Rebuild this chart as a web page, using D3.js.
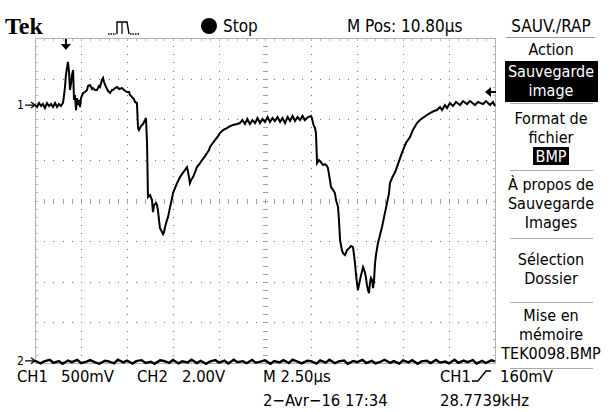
<!DOCTYPE html>
<html><head><meta charset="utf-8">
<script src="https://cdn.jsdelivr.net/npm/d3@7"></script>
<style>
body{margin:0;background:#fff}
svg{display:block}
text{font-family:"DejaVu Sans Condensed","DejaVu Sans",sans-serif;font-stretch:condensed;font-size:17px;fill:#000}
</style>
</head><body><svg id="c" width="611" height="412"></svg>
<script>
// ---- Data (time in µs from left edge of screen, volts) ----
const ch1Time = [0,0.11,0.22,0.33,0.43,0.54,0.65,0.76,0.87,0.98,1.09,1.20,1.30,1.41,1.52,
1.58,1.63,1.68,1.79,1.85,1.90,1.96,2.01,2.07,2.12,2.17,2.23,2.28,2.34,2.39,2.45,2.50,2.61,2.72,2.83,2.88,2.99,3.10,3.15,3.26,3.37,3.48,3.53,3.64,3.70,3.75,3.86,3.97,4.08,4.18,4.24,4.35,4.46,4.57,4.73,4.84,5.00,5.11,5.16,5.27,5.38,5.43,5.54,
5.60,5.65,5.76,5.87,5.98,6.03,6.09,6.14,6.25,6.36,6.41,6.47,6.58,6.63,6.68,6.79,6.85,6.96,7.01,7.07,7.17,7.23,7.34,7.45,7.50,7.61,7.72,7.83,7.88,7.99,8.15,8.26,8.32,8.42,8.48,8.59,8.70,8.80,8.97,9.08,9.24,9.35,9.46,9.51,9.62,9.78,9.95,10.05,10.22,10.43,10.60,10.76,10.98,11.14,
11.27,11.41,11.54,11.68,11.82,11.96,12.09,12.23,12.36,12.50,12.64,12.77,12.91,13.04,13.18,13.32,13.45,13.59,13.73,13.86,14.00,14.13,14.27,14.40,14.54,14.67,14.84,15.00,15.05,
15.11,15.16,15.22,15.27,15.33,15.43,15.54,15.65,15.76,15.87,15.92,16.03,16.09,16.20,16.30,16.36,16.47,16.52,16.58,16.68,16.74,16.85,16.96,17.07,17.17,17.28,17.34,17.39,17.45,17.50,17.55,17.66,17.72,17.83,17.93,17.99,18.04,18.10,18.15,18.21,18.26,18.32,18.37,18.42,18.48,18.53,18.64,18.75,18.86,18.97,19.13,19.24,19.29,19.40,19.57,19.67,19.84,20.00,20.16,20.38,20.54,20.76,20.92,21.14,21.30,21.47,21.68,21.85,
22.01,22.12,22.28,22.39,22.55,22.72,22.88,23.10,23.26,23.48,23.64,23.91,24.07,24.35,24.51,24.73,24.89,25.00];
const ch1Volts = [0,-0.025,0.025,-0.012,0.012,-0.037,0.025,-0.012,0.012,-0.025,0.025,-0.025,0.012,-0.012,0.025,
0.123,0.222,0.369,0.530,0.406,0.185,0.271,0.369,0.431,0.062,0.123,-0.062,0.086,0,0.062,-0.025,0.086,0.148,0.160,0.185,0.234,0.246,0.197,0.209,0.185,0.185,0.234,0.222,0.308,0.333,0.283,0.222,0.172,0.148,0.185,0.185,0.209,0.222,0.197,0.209,0.185,0.160,0.160,0.123,0.099,0.074,0.037,0.025,
-0.283,-0.308,-0.259,-0.234,-0.185,-0.160,-0.468,-1.133,-1.108,-1.170,-1.318,-1.232,-1.207,-1.232,-1.293,-1.515,-1.539,-1.589,-1.564,-1.502,-1.416,-1.379,-1.256,-1.145,-1.084,-1.022,-0.961,-0.911,-0.887,-0.850,-0.800,-0.764,-0.825,-0.961,-0.924,-0.887,-0.825,-0.764,-0.714,-0.677,-0.628,-0.591,-0.554,-0.517,-0.480,-0.431,-0.382,-0.345,-0.308,-0.283,-0.259,-0.246,-0.234,-0.222,
-0.185,-0.234,-0.172,-0.234,-0.185,-0.222,-0.160,-0.222,-0.172,-0.209,-0.148,-0.209,-0.160,-0.197,-0.148,-0.209,-0.160,-0.222,-0.148,-0.197,-0.135,-0.197,-0.148,-0.185,-0.135,-0.185,-0.148,-0.135,-0.160,
-0.222,-0.259,-0.283,-0.345,-0.714,-0.677,-0.702,-0.739,-0.727,-0.751,-0.776,-0.924,-1.010,-1.047,-1.084,-1.170,-1.256,-1.416,-1.663,-1.786,-1.823,-1.847,-1.786,-1.761,-1.736,-1.749,-1.847,-1.946,-2.094,-2.192,-2.278,-2.155,-2.094,-1.995,-2.057,-2.130,-2.217,-2.278,-2.315,-2.180,-2.130,-2.155,-2.254,-2.180,-1.946,-1.847,-1.699,-1.601,-1.502,-1.379,-1.207,-1.084,-0.961,-0.899,-0.825,-0.764,-0.653,-0.554,-0.468,-0.394,-0.308,-0.222,-0.185,-0.148,-0.123,-0.099,-0.074,-0.062,
-0.025,-0.062,0,-0.037,0.025,-0.012,0.037,0,0.049,0.012,0.049,0,0.037,0.012,0.049,0,0.037,-0.012];

const ch2Time = [0,0.3,0.5,0.8,1,1.3,1.5,1.8,2,2.3,2.5,2.8,3,3.3,3.5,3.8,4,4.3,4.5,4.8,5,5.3,5.5,5.8,6,6.3,6.5,6.8,7,7.3,7.5,7.8,8,8.3,8.5,8.8,9,9.3,9.5,9.8,10,10.3,10.5,10.8,11,11.3,11.5,11.8,12,12.3,12.5,12.8,13,13.3,13.5,13.8,14,14.3,14.5,14.8,15,15.3,15.5,15.8,16,16.3,16.5,16.8,17,17.3,17.5,17.8,18,18.3,18.5,18.8,19,19.3,19.5,19.8,20,20.3,20.5,20.8,21,21.3,21.5,21.8,22,22.3,22.5,22.8,23,23.3,23.5,23.8,24,24.3,24.5,24.8,25];
const ch2Volts = [0.05,-0.08,0.02,0.1,-0.05,0.03,-0.1,0.06,-0.02,0.09,-0.07,0.01,0.08,-0.04,-0.1,0.05,0.02,-0.08,0.1,-0.03,0.06,-0.09,0.03,0.08,-0.06,0.0,-0.1,0.07,0.04,-0.05,0.09,-0.08,0.02,-0.03,0.1,-0.06,0.05,-0.1,0.01,0.08,-0.04,0.06,-0.09,0.1,-0.02,0.03,-0.07,0.09,-0.05,0.02,0.07,-0.1,0.04,-0.03,0.08,-0.06,0.1,-0.01,-0.08,0.05,0.03,-0.09,0.07,-0.04,0.1,-0.07,0.02,0.06,-0.1,0.04,-0.02,0.09,-0.06,0.05,-0.08,0.01,0.1,-0.05,0.03,-0.09,0.07,-0.03,0.08,-0.1,0.02,0.05,-0.06,0.09,-0.04,0.01,-0.08,0.1,-0.05,0.06,-0.02,0.08,-0.09,0.04,-0.06,0.07,0.02];

const timeDomain = [0, 25];          // 10 div x 2.5 µs
const divDomain = [-4, 4];           // 8 vertical divisions
const ch1VoltsPerDiv = 0.5, ch2VoltsPerDiv = 2.0;
const ch1Position = 2.35, ch2Position = -3.97; // divisions
const triggerLevel = 0.16, triggerTime = 1.68;

const headerLabels = {tek:"Tek", stop:"Stop", mpos:"M Pos: 10.80µs"};
const menuTitle = "SAUV./RAP";
const menuItems = [
  {lines:["Action"], y:[55]},
  {lines:["Sauvegarde","image"], y:[77,96], inverse:true},
  {lines:["Format de","fichier"], y:[124,143], badge:"BMP"},
  {lines:["À propos de","Sauvegarde","Images"], y:[190,209,228]},
  {lines:["Sélection","Dossier"], y:[265,284]},
  {lines:["Mise en","mémoire","TEK0098.BMP"], y:[321,340,359]}
];
const separators = [103,170,238,302,368];
const footer = [
  {t:"CH1", x:17, y:382},{t:"500mV", x:61, y:382},
  {t:"CH2", x:137, y:382},{t:"2.00V", x:182, y:382},
  {t:"M 2.50µs", x:263, y:382},
  {t:"CH1", x:440, y:382},{t:"160mV", x:500, y:382},
  {t:"2−Avr−16 17:34", x:263, y:406},{t:"28.7739kHz", x:440, y:406}
];

// ---- Drawing ----
const svg = d3.select("#c");
const x = d3.scaleLinear().domain(timeDomain).range([35, 495]);
const y = d3.scaleLinear().domain(divDomain).range([363, 38]);
const xDiv = d3.scaleLinear().domain([0,10]).range([35,495]);
const gridCol = "#6e6e6e";

const g = svg.append("g");
g.append("rect").attr("x",xDiv(0)+0.5).attr("y",y(4)+0.5).attr("width",xDiv(10)-xDiv(0)).attr("height",y(-4)-y(4))
 .attr("fill","none").attr("stroke","#b4b4b4").attr("stroke-width",1);

const minorX = d3.range(0, 10.001, 0.2);
const minorY = d3.range(-4, 4.001, 0.2);
for (let i=1;i<10;i++){ if(i===5) continue;
  minorY.forEach(v=>g.append("rect").attr("x",Math.round(xDiv(i))).attr("y",Math.round(y(v))).attr("width",1).attr("height",1).attr("fill",gridCol));
}
for (let j=-3;j<=3;j++){ if(j===0) continue;
  minorX.forEach(v=>g.append("rect").attr("x",Math.round(xDiv(v))).attr("y",Math.round(y(j))).attr("width",1).attr("height",1).attr("fill",gridCol));
}
minorX.forEach(v=>g.append("rect").attr("x",Math.round(xDiv(v))).attr("y",Math.round(y(0))-2)
  .attr("width",1).attr("height",5).attr("fill","#a0a0a0"));
minorY.forEach(v=>g.append("rect").attr("y",Math.round(y(v))).attr("x",Math.round(xDiv(5))-2)
  .attr("height",1).attr("width",5).attr("fill","#a0a0a0"));
minorX.forEach(v=>{
  g.append("rect").attr("x",Math.round(xDiv(v))).attr("y",Math.round(y(4))).attr("width",1).attr("height",3).attr("fill","#b4b4b4");
  g.append("rect").attr("x",Math.round(xDiv(v))).attr("y",Math.round(y(-4))-2).attr("width",1).attr("height",3).attr("fill","#b4b4b4");
});
minorY.forEach(v=>{
  g.append("rect").attr("y",Math.round(y(v))).attr("x",Math.round(xDiv(0))).attr("height",1).attr("width",3).attr("fill","#b4b4b4");
  g.append("rect").attr("y",Math.round(y(v))).attr("x",Math.round(xDiv(10))-2).attr("height",1).attr("width",3).attr("fill","#b4b4b4");
});

// traces
const ch1 = ch1Time.map((t,i)=>({t, v:ch1Volts[i]}));
const ch2 = ch2Time.map((t,i)=>({t, v:ch2Volts[i]}));
const line1 = d3.line().x(d=>x(d.t)).y(d=>y(ch1Position + d.v/ch1VoltsPerDiv));
const line2 = d3.line().x(d=>x(d.t)).y(d=>y(ch2Position + d.v/ch2VoltsPerDiv));
svg.append("path").datum(ch2).attr("d",line2).attr("fill","none").attr("stroke","#000").attr("stroke-width",2.4);
svg.append("path").datum(ch1).attr("d",line1).attr("fill","none").attr("stroke","#000").attr("stroke-width",2).attr("stroke-linejoin","miter");

// channel markers
function chMarker(label, yy){
  svg.append("text").attr("x",17).attr("y",yy+4).style("font-size","12px").text(label);
  svg.append("path").attr("d",`M25,${yy}H34M31,${yy-3}L35,${yy}L31,${yy+3}`).attr("stroke","#000").attr("stroke-width",1.3).attr("fill","none");
}
chMarker("1", y(ch1Position));
chMarker("2", y(ch2Position)-1);

// trigger time arrow (top) and trigger level arrow (right)
const tx = x(triggerTime);
svg.append("path").attr("d",`M${tx},39V48`).attr("stroke","#000").attr("stroke-width",2);
svg.append("path").attr("d",`M${tx-5},44L${tx},50L${tx+5},44Z`).attr("fill","#000");
const ty = y(ch1Position + triggerLevel/ch1VoltsPerDiv);
svg.append("path").attr("d",`M487,${ty}H496`).attr("stroke","#000").attr("stroke-width",2);
svg.append("path").attr("d",`M491,${ty-5}L485,${ty}L491,${ty+5}Z`).attr("fill","#000");

// header
svg.append("text").attr("x",5).attr("y",34).style("font-family","'Liberation Serif','DejaVu Serif',serif")
  .style("font-weight","bold").style("font-size","24px").style("font-stretch","normal").text(headerLabels.tek);
svg.append("path").attr("d","M117,34V22H127L129,34").attr("fill","none").attr("stroke","#000").attr("stroke-width",1.4);
svg.append("path").attr("d","M122,22V34").attr("fill","none").attr("stroke","#000").attr("stroke-width",1.2);
svg.append("path").attr("d","M108,34H116M130,34H140").attr("stroke","#000").attr("stroke-width",1.4).attr("stroke-dasharray","1.5,1");
svg.append("circle").attr("cx",209).attr("cy",26).attr("r",8).attr("fill","#000");
svg.append("text").attr("x",223).attr("y",32).text(headerLabels.stop);
svg.append("text").attr("x",347).attr("y",32).text(headerLabels.mpos);

// menu
const mx = 551;
svg.append("text").attr("x",mx).attr("y",32).attr("text-anchor","middle").text(menuTitle);
svg.append("line").attr("x1",506).attr("x2",595).attr("y1",37.5).attr("y2",37.5).attr("stroke","#999");
menuItems.forEach(it=>{
  if(it.inverse) svg.append("rect").attr("x",505).attr("y",61).attr("width",93).attr("height",41).attr("fill","#000");
  it.lines.forEach((l,k)=>svg.append("text").attr("x",mx).attr("y",it.y[k]).attr("text-anchor","middle")
     .style("font-size","16px").style("fill",it.inverse?"#fff":"#000").text(l));
  if(it.badge){
    svg.append("rect").attr("x",533).attr("y",147).attr("width",36).attr("height",18).attr("fill","#000");
    svg.append("text").attr("x",mx).attr("y",162).attr("text-anchor","middle").style("font-size","16px").style("fill","#fff").text(it.badge);
  }
});
separators.forEach(s=>svg.append("line").attr("x1",510).attr("x2",593).attr("y1",s+0.5).attr("y2",s+0.5).attr("stroke","#aaa"));

// footer
footer.forEach(f=>svg.append("text").attr("x",f.x).attr("y",f.y).style("font-size","16.5px").text(f.t));
svg.append("path").attr("d","M472,381H478L486,371H491").attr("fill","none").attr("stroke","#000").attr("stroke-width",1.4);
</script>
</body></html>
